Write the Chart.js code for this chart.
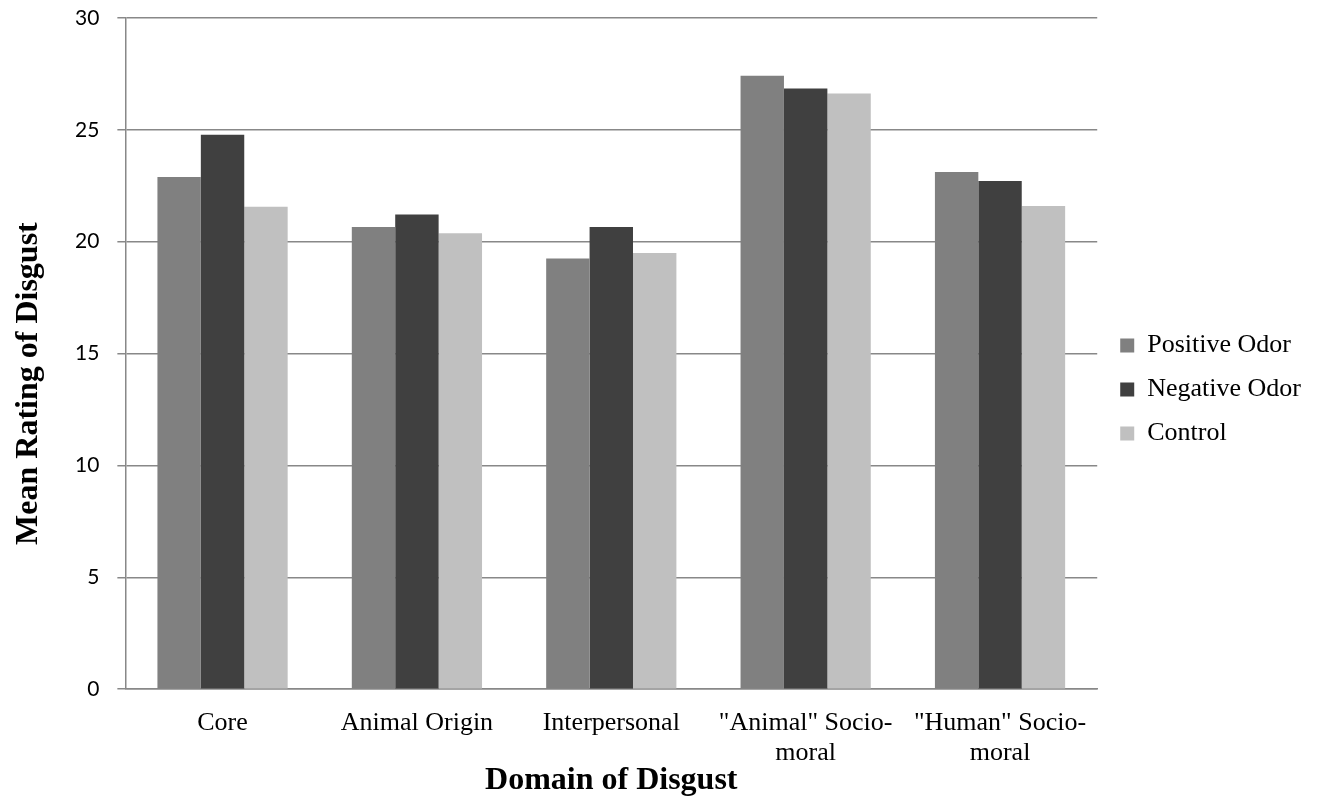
<!DOCTYPE html>
<html>
<head>
<meta charset="utf-8">
<script src="https://cdn.jsdelivr.net/npm/chart.js@4/dist/chart.umd.min.js"></script>
<style>
html,body{margin:0;padding:0;background:#fff;}
#wrap{width:1317px;height:803px;}
</style>
</head>
<body>
<div id="wrap"><canvas id="c" width="1317" height="803"></canvas></div>
<script>
const categories = ["Core", "Animal Origin", "Interpersonal", ["\"Animal\" Socio-", "moral"], ["\"Human\" Socio-", "moral"]];
const positiveOdor = [22.89, 20.66, 19.25, 27.42, 23.12];
const negativeOdor = [24.78, 21.22, 20.66, 26.85, 22.72];
const control = [21.56, 20.38, 19.50, 26.63, 21.60];
const seriesNames = ["Positive Odor", "Negative Odor", "Control"];
const yTicks = [0, 5, 10, 15, 20, 25, 30];
const yTitle = "Mean Rating of Disgust";
const xTitle = "Domain of Disgust";

const gridColor = '#888888';
const serif = '"Liberation Serif", "Times New Roman", serif';

// Draws the rotated y-axis title (slightly below the plot centre, as in the reference)
const yTitlePlugin = {
  id: 'yTitlePlugin',
  afterDraw(chart) {
    const ctx = chart.ctx;
    const area = chart.chartArea;
    ctx.save();
    ctx.font = 'bold 32px ' + serif;
    ctx.fillStyle = '#000';
    ctx.textAlign = 'center';
    ctx.textBaseline = 'alphabetic';
    ctx.translate(37, (area.top + area.bottom) / 2 + 30);
    ctx.rotate(-Math.PI / 2);
    ctx.fillText(yTitle, 0, 0);
    ctx.restore();
  }
};

// Nudge the legend block to the reference position
const legendShift = {
  id: 'legendShift',
  afterLayout(chart) {
    const l = chart.legend;
    if (!l) return;
    l.top -= 16; l.bottom -= 16;
    l.left += 5; l.right += 5;
  }
};

new Chart(document.getElementById('c'), {
  type: 'bar',
  data: {
    labels: categories,
    datasets: [
      {label: seriesNames[0], data: positiveOdor, backgroundColor: '#808080', borderWidth: 0},
      {label: seriesNames[1], data: negativeOdor, backgroundColor: '#404040', borderWidth: 0},
      {label: seriesNames[2], data: control, backgroundColor: '#c0c0c0', borderWidth: 0}
    ]
  },
  plugins: [yTitlePlugin, legendShift],
  options: {
    responsive: false,
    devicePixelRatio: 1,
    animation: false,
    layout: {padding: {left: 57, right: 11, top: 18, bottom: 10}},
    datasets: {bar: {categoryPercentage: 0.67, barPercentage: 1.0}},
    plugins: {
      tooltip: {enabled: false},
      legend: {
        position: 'right',
        align: 'center',
        labels: {
          font: {family: serif, size: 26},
          color: '#000',
          boxWidth: 14,
          boxHeight: 14,
          padding: 18
        }
      }
    },
    scales: {
      x: {
        grid: {display: false, drawTicks: false, tickLength: 0},
        border: {display: true, color: gridColor, width: 1.5},
        ticks: {font: {family: serif, size: 26, lineHeight: 1.15}, color: '#000', padding: 19, maxRotation: 0, autoSkip: false},
        title: {display: true, text: xTitle, font: {family: serif, size: 32, weight: 'bold', lineHeight: 0.75}, color: '#000', padding: {top: -18, bottom: 0}}
      },
      y: {
        min: 0,
        max: 30,
        afterBuildTicks: (axis) => { axis.ticks = yTicks.map(v => ({value: v})); },
        afterFit: (axis) => { axis.paddingTop = 0; },
        ticks: {font: {family: 'Lato, "Open Sans", sans-serif', size: 21}, color: '#000', padding: 18},
        grid: {color: gridColor, lineWidth: 1.5, tickLength: 8, drawTicks: true},
        border: {display: true, color: gridColor, width: 1.5},
        title: {display: false}
      }
    }
  }
});
</script>
</body>
</html>
